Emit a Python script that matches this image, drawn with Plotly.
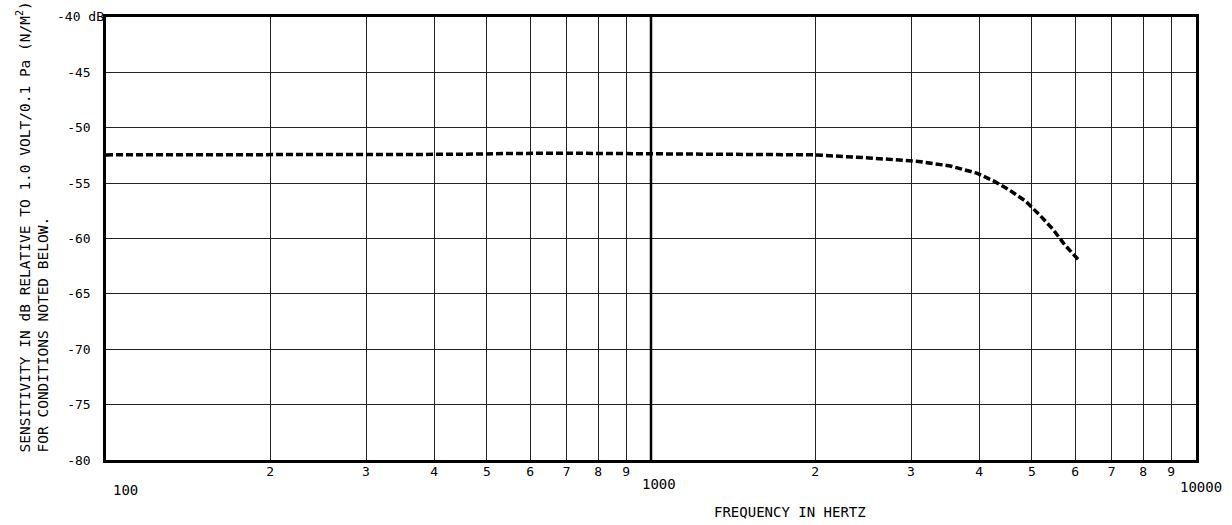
import plotly.graph_objects as go

# Data
freq_hz = [100, 200, 300, 380, 450, 550, 700, 1000, 1500, 2000, 2560, 3100,
           3540, 3960, 4250, 4520, 4860, 5170, 5470, 5750, 6080, 6100]
sensitivity_db = [-52.45, -52.45, -52.45, -52.45, -52.4, -52.32, -52.3, -52.35,
                  -52.37, -52.45, -52.75, -53.05, -53.45, -54.1, -54.8, -55.55,
                  -56.6, -57.9, -59.2, -60.6, -61.9, -62.1]

y_tick_vals = [-45, -50, -55, -60, -65, -70, -75, -80]
y_tick_text = ["-45", "-50", "-55", "-60", "-65", "-70", "-75", "-80"]
y_top_label = "-40 dB"
x_minor_vals = [200, 300, 400, 500, 600, 700, 800, 900,
                2000, 3000, 4000, 5000, 6000, 7000, 8000, 9000]
x_minor_text = ["2", "3", "4", "5", "6", "7", "8", "9",
                "2", "3", "4", "5", "6", "7", "8", "9"]
decade_vals = [100, 1000, 10000]
decade_text = ["100", "1000", "10000"]

FONT = "DejaVu Sans Mono"

fig = go.Figure()
fig.add_trace(go.Scatter(
    x=freq_hz, y=sensitivity_db, mode="lines",
    line=dict(color="black", width=3.5, dash="7px,3px"),
    showlegend=False, hoverinfo="skip",
))

W, H = 1232, 525
L, R, T, B = 106, 36, 17, 65

fig.update_layout(
    width=W, height=H,
    margin=dict(l=L, r=R, t=T, b=B),
    paper_bgcolor="white", plot_bgcolor="white",
    font=dict(family=FONT, color="black", size=13),
    xaxis=dict(
        type="log", range=[2, 4],
        tickvals=x_minor_vals, ticktext=x_minor_text,
        ticks="", showgrid=True, gridcolor="#222", gridwidth=1,
        showline=True, linecolor="black", linewidth=2.5, mirror=True,
        zeroline=False, tickfont=dict(size=13, family=FONT),
        ticklabelstandoff=-2,
    ),
    yaxis=dict(
        range=[-80, -40],
        tickvals=y_tick_vals, ticktext=y_tick_text,
        ticks="", showgrid=True, gridcolor="#222", gridwidth=1,
        showline=True, linecolor="black", linewidth=2.5, mirror=True,
        zeroline=False, tickfont=dict(size=13, family=FONT),
        ticklabelstandoff=10,
    ),
)

# thick line at 1000 Hz
fig.add_shape(type="line", xref="x", yref="paper", x0=1000, x1=1000, y0=0, y1=1,
              line=dict(color="black", width=2.5))

# decade labels (lower than the digit labels)
shifts = [19, 8, 5]
yshifts = [-30, -24, -27]
for i, (t, s, ys) in enumerate(zip(decade_text, shifts, yshifts)):
    fig.add_annotation(x=2 + i, xref="x", y=0, yref="paper",
                       text=t, showarrow=False, xanchor="center", yanchor="middle",
                       xshift=s, yshift=ys, font=dict(size=14, family=FONT))

# "-40 dB" top label
fig.add_annotation(x=0, xref="paper", y=1, yref="paper", text=y_top_label,
                   showarrow=False, xanchor="right", yanchor="middle",
                   xshift=0, yshift=1, font=dict(size=13, family=FONT))

# x-axis title
fig.add_annotation(x=(790 - L) / (W - L - R), xref="paper", y=0, yref="paper",
                   text="FREQUENCY IN HERTZ", showarrow=False,
                   xanchor="center", yanchor="middle", yshift=-(512 - (H - B)),
                   font=dict(size=14, family=FONT))

# y-axis title (two lines, rotated)
fig.add_annotation(x=0, xref="paper", y=(460 - 455) / (H - T - B), yref="paper",
                   text="SENSITIVITY IN dB RELATIVE TO 1.0 VOLT/0.1 Pa (N/M<sup>2</sup>)<br>FOR CONDITIONS NOTED BELOW.",
                   showarrow=False, textangle=-90, align="left",
                   xanchor="center", yanchor="bottom",
                   xshift=-(L - 33),
                   font=dict(size=14.5, family=FONT))

fig.write_html("out.html", config={"displayModeBar": False},
               post_script="document.body.style.margin='0';")
